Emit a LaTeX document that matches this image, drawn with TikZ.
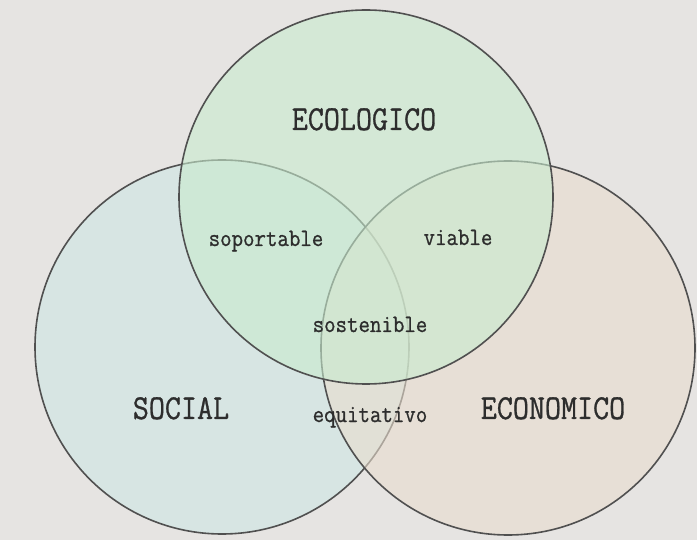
\documentclass[tikz,border=0pt]{standalone}
\usepackage{fontspec}
\newfontfamily\typewriter[FakeBold=0.9]{Latin Modern Mono}

\definecolor{paper}{RGB}{230,228,226}
\definecolor{ringline}{RGB}{80,80,80}
\definecolor{socialfill}{RGB}{205,231,229}
\definecolor{economicofill}{RGB}{233,221,206}
\definecolor{ecologicofill}{RGB}{200,235,206}
\definecolor{labeltext}{RGB}{45,45,45}

\tikzset{
  ring/.style={circle, draw=ringline, line width=1.6pt, fill opacity=0.6,
    minimum size=374pt, inner sep=0pt},
  bigword/.style={font=\fontsize{35}{40}\selectfont\typewriter, text=labeltext,
    xscale=0.89, anchor=base, inner sep=0pt},
  smallword/.style={font=\fontsize{25}{30}\selectfont\typewriter, text=labeltext,
    xscale=0.89, anchor=base, inner sep=0pt}
}

\begin{document}
\begin{tikzpicture}[x=1pt,y=1pt,yscale=-1,xscale=1]
		% paper
		\fill[paper] (0,0) rectangle (697,540);
		\useasboundingbox (0,0) rectangle (697,540);
		
		%Shape: Circle [social]
		\node[ring, fill=socialfill] (social) at (222,347) {};
		%Shape: Circle [economico]
		\node[ring, fill=economicofill] (economico) at (508,348) {};
		%Shape: Circle [ecologico]
		\node[ring, fill=ecologicofill] (ecologico) at (366,197) {};
		
		% Text Node
		\node[bigword] (ecologicoText) at (364,130) {ECOLOGICO};
		% Text Node
		\node[bigword] (socialText) at (181,419) {SOCIAL};
		% Text Node
		\node[bigword] (economicoText) at (553,419) {ECONOMICO};
		% Text Node
		\node[smallword] (soportable) at (266,246) {soportable};
		% Text Node
		\node[smallword] (viable) at (458,245) {viable};
		% Text Node
		\node[smallword] (sostenible) at (370,332) {sostenible};
		% Text Node
		\node[smallword] (equitativo) at (370,422) {equitativo};
		
		\end{tikzpicture}
\end{document}
